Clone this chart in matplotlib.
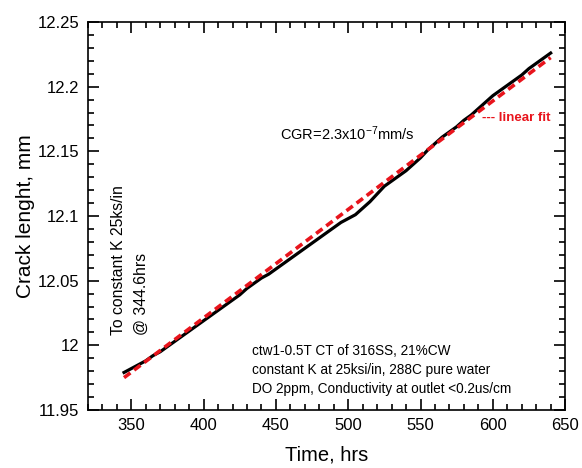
import matplotlib
matplotlib.use("Agg")
import matplotlib.pyplot as pl
from matplotlib.ticker import MultipleLocator

pl.rcParams['font.family'] = ['Liberation Sans', 'DejaVu Sans']
pl.rcParams['mathtext.fontset'] = 'custom'
pl.rcParams['mathtext.rm'] = 'Liberation Sans'
pl.rcParams['mathtext.it'] = 'Liberation Sans'

# measured crack length (hrs, mm)
temps = [345, 350, 355, 360, 365, 370, 375, 380, 385, 390, 395, 400, 405, 410,
         415, 420, 425, 430, 435, 440, 445, 450, 455, 460, 465, 470, 475, 480,
         485, 490, 495, 500, 505, 510, 515, 520, 525, 530, 535, 540, 545, 550,
         555, 560, 565, 570, 575, 580, 585, 590, 595, 600, 605, 610, 615, 620,
         625, 630, 635, 640]
longueur = [11.979, 11.982, 11.985, 11.988, 11.992, 11.995, 11.999, 12.003,
            12.007, 12.011, 12.015, 12.019, 12.023, 12.027, 12.031, 12.035,
            12.039, 12.044, 12.048, 12.052, 12.055, 12.059, 12.063, 12.067,
            12.071, 12.075, 12.079, 12.083, 12.087, 12.091, 12.095, 12.098,
            12.101, 12.106, 12.111, 12.117, 12.123, 12.127, 12.131, 12.135,
            12.140, 12.145, 12.151, 12.156, 12.161, 12.165, 12.169, 12.174,
            12.178, 12.183, 12.188, 12.193, 12.197, 12.201, 12.205, 12.209,
            12.214, 12.218, 12.222, 12.226]

# linear fit end points
temps_fit = [345, 640]
longueur_fit = [11.975, 12.2225]

fig = pl.figure(figsize=(5.82, 4.68), dpi=100)
ax = fig.add_axes([0.151, 0.124, 0.820, 0.829])

ax.plot(temps, longueur, c='black', lw=2.3)
ax.plot(temps_fit, longueur_fit, c='#e8141c', lw=2.6, ls=(0, (2.2, 1.3)))

ax.set_xlim(320, 650)
ax.set_ylim(11.95, 12.25)
ax.xaxis.set_minor_locator(MultipleLocator(10))
ax.yaxis.set_minor_locator(MultipleLocator(0.01))
ax.set_xticks([350, 400, 450, 500, 550, 600, 650])
ax.set_xticklabels(['350', '400', '450', '500', '550', '600', '650'])
ax.set_yticks([11.95, 12.0, 12.05, 12.1, 12.15, 12.2, 12.25])
ax.set_yticklabels(['11.95', '12', '12.05', '12.1', '12.15', '12.2', '12.25'])
ax.tick_params(which='both', direction='in', top=True, right=True, width=1.2)
ax.tick_params(which='major', length=8, labelsize=12, pad=6)
ax.tick_params(which='minor', length=4)
for s in ax.spines.values():
    s.set_linewidth(1.2)

ax.set_xlabel('Time, hrs', fontsize=14.5, labelpad=9)
ax.set_ylabel('Crack lenght, mm', fontsize=15, labelpad=2)

ax.text(0.4025, 0.696, 'CGR=2.3x10$^{\\mathrm{-7}}$mm/s', transform=ax.transAxes,
        fontsize=10.5, ha='left', va='baseline')
ax.text(0.826, 0.745, '--- linear fit', transform=ax.transAxes, color='#e8141c',
        fontsize=9.5, fontweight='bold', ha='left', va='baseline')
ax.text(0.088, 0.193, 'To constant K 25ks/in\n@ 344.6hrs', transform=ax.transAxes,
        fontsize=11.3, rotation=90, ha='center', va='bottom', linespacing=1.7,
        multialignment='left')
ax.text(0.344, 0.037, 'ctw1-0.5T CT of 316SS, 21%CW\nconstant K at 25ksi/in, 288C pure water\n'
        'DO 2ppm, Conductivity at outlet <0.2us/cm', transform=ax.transAxes,
        fontsize=9.8, ha='left', va='bottom', linespacing=1.45)

fig.savefig('out.png', dpi=100)
